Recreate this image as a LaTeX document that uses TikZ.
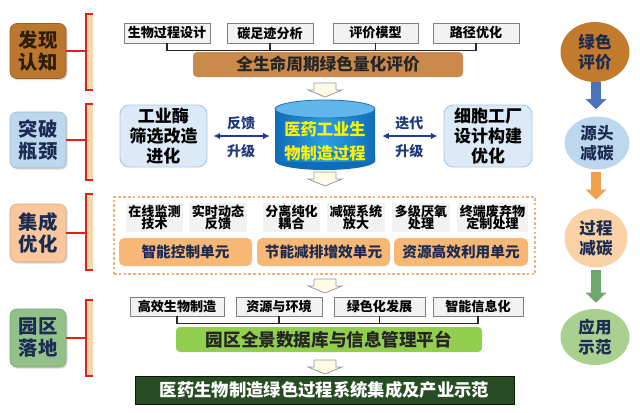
\documentclass[tikz,border=0pt]{standalone}
\usepackage{fontspec}
\setmainfont{Noto Sans CJK SC}
\usetikzlibrary{arrows.meta,shapes.geometric,shadows}
\definecolor{brownL}{HTML}{BC772F}
\definecolor{brownB}{HTML}{9A5E20}
\definecolor{brownT}{HTML}{2E1D0A}
\definecolor{blueL}{HTML}{BDD7EE}
\definecolor{navy}{HTML}{1B2B52}
\definecolor{peach}{HTML}{F8C79C}
\definecolor{greenL}{HTML}{92C28A}
\definecolor{brk}{HTML}{E0201B}
\definecolor{tanS}{HTML}{F2D9A8}
\definecolor{sgray}{HTML}{F2F2F2}
\definecolor{sborder}{HTML}{7F7F7F}
\definecolor{barbrown}{HTML}{C98A4B}
\definecolor{cylA}{HTML}{0F6DB8}
\definecolor{cylB}{HTML}{2A9DE2}
\definecolor{cyltop}{HTML}{62B6EC}
\definecolor{cylrim}{HTML}{1A6FB0}
\definecolor{ylw}{HTML}{FFF200}
\definecolor{lbfill}{HTML}{DCEAF7}
\definecolor{lbdraw}{HTML}{A9C8E8}
\definecolor{darkblue}{HTML}{1F3A9E}
\definecolor{arrtxt}{HTML}{1F3A7A}
\definecolor{dashc}{HTML}{F0B27A}
\definecolor{unitc}{HTML}{F6B874}
\definecolor{greenbar}{HTML}{93CF4E}
\definecolor{darkgreen}{HTML}{274B23}
\definecolor{e1c}{HTML}{C27A2C}
\definecolor{e3c}{HTML}{F9D2A6}
\definecolor{e4c}{HTML}{A9D08E}
\definecolor{fblue}{HTML}{4A74B8}
\definecolor{forange}{HTML}{EFA14E}
\definecolor{fgreen}{HTML}{6EA66B}
\definecolor{harrfill}{HTML}{FFFBE6}
\newcommand\harrow[2]{\draw[harr] (#1-11,#2) -- (#1+11,#2) -- (#1+11,#2+7) -- (#1+17,#2+7) -- (#1,#2+14) -- (#1-17,#2+7) -- (#1-11,#2+7) -- cycle;}
\begin{document}
\begin{tikzpicture}[x=0.75pt,y=-0.75pt,
  lab/.style={rounded corners=5pt, minimum width=42pt, align=center, inner sep=0pt,
    font=\fontsize{14.5}{16.5}\selectfont\bfseries,
    drop shadow={shadow xshift=1.2pt,shadow yshift=-1.2pt,opacity=0.3}},
  brkline/.style={draw=brk, line width=1.5pt},
  sbox/.style={draw=sborder, fill=sgray, line width=0.7pt, inner sep=0pt, minimum height=15pt,
    font=\fontsize{9.8}{10}\selectfont\bfseries},
  conn/.style={draw=black!85, line width=0.8pt},
  bar/.style={rounded corners=3pt, inner sep=0pt, font=\fontsize{12.5}{13}\selectfont\bfseries},
  harr/.style={fill=harrfill, draw=black!40, line width=0.6pt, line join=miter},
  sidebox/.style={rounded corners=7pt, fill=lbfill, draw=lbdraw, line width=0.7pt, align=center,
    inner sep=0pt, minimum height=46.5pt, font=\fontsize{12.75}{15}\selectfont\bfseries},
  darr/.style={draw=darkblue, line width=1.2pt, {Latex[length=5pt,width=5pt]}-{Latex[length=5pt,width=5pt]}},
  alab/.style={text=arrtxt, font=\fontsize{10.5}{11}\selectfont\bfseries, inner sep=0pt},
  tbox/.style={fill=sgray, inner sep=0pt, minimum height=21.75pt, align=center,
    font=\fontsize{9.8}{9.6}\selectfont\bfseries},
  unit/.style={rounded corners=4pt, fill=unitc, inner sep=0pt, minimum height=21pt, text=navy,
    font=\fontsize{11}{12}\selectfont\bfseries},
  ell/.style={ellipse, inner sep=0pt, align=center, text=navy, font=\fontsize{12.4}{15}\selectfont\bfseries},
  fat/.style={line width=8pt, -{Triangle[width=15pt,length=7.5pt]}}
]
\useasboundingbox (0,0) rectangle (640,412);
\fill[white] (0,0) rectangle (640,412);

% ---------- left labels ----------
\node[lab, fill=brownL, draw=brownB, text=brownT, minimum height=41.25pt] (L1) at (38,51) {发现\\认知};
\node[lab, fill=blueL, draw=blueL!85!black, text=navy, minimum height=42pt] (L2) at (38,140) {突破\\瓶颈};
\node[lab, fill=peach, draw=peach!85!black, text=navy, minimum height=43.5pt] (L3) at (38,233) {集成\\优化};
\node[lab, fill=greenL, draw=greenL!85!black, text=navy, minimum height=43.5pt] (L4) at (38,338) {园区\\落地};

% ---------- brackets ----------
\foreach \yt/\yb/\n in {14/90/1,104/180/2,194/270/3,300/376/4}{
  \fill[tanS] (86,\yt) rectangle (93,\yb);
  \draw[brkline] (93,\yt) -- (86,\yt) -- (86,\yb) -- (93,\yb);
  \coordinate (k\n) at (86,{(\yt+\yb)/2});
}
\draw[brkline] (L1.east) -- (L1.east -| k1);
\draw[brkline] (L2.east) -- (L2.east -| k2);
\draw[brkline] (L3.east) -- (L3.east -| k3);
\draw[brkline] (L4.east) -- (L4.east -| k4);

% ---------- row 1 ----------
\node[sbox, minimum width=64.5pt] (s1) at (167,33) {生物过程设计};
\node[sbox, minimum width=64.5pt] (s2) at (270,33) {碳足迹分析};
\node[sbox, minimum width=63.75pt] (s3) at (375.5,33) {评价模型};
\node[sbox, minimum width=64.5pt] (s4) at (476,33) {路径优化};
\draw[conn] (s1.south) -- ++(0,7) -| (s4.south);
\draw[conn] (s2.south) -- ++(0,7);
\draw[conn] (s3.south) -- ++(0,7);
\node[bar, fill=barbrown, text=black!85, minimum width=202.5pt, minimum height=18.75pt] (bar1) at (328,64.5) {全生命周期绿色量化评价};

\harrow{325}{83}

% ---------- row 2 ----------
\shade[left color=cylA, right color=cylA, middle color=cylB] (275,109) rectangle (375,161);
\fill[cylA] (325,161) ellipse [x radius=50, y radius=9];
\shade[left color=cylA, right color=cylA, middle color=cylB] (275,155) rectangle (375,161);
\filldraw[fill=cyltop, draw=cylrim, line width=0.6pt] (325,109) ellipse [x radius=50, y radius=9];
\node[inner sep=0pt, minimum width=75pt, minimum height=39pt, align=center, text=ylw,
  font=\fontsize{12.2}{18}\selectfont\bfseries] (cyl) at (325,141) {医药工业生\\物制造过程};

\node[sidebox, minimum width=65.25pt] (b1) at (163.5,136) {工业酶\\筛选改造\\进化};
\node[sidebox, minimum width=66pt] (b2) at (488,136) {细胞工厂\\设计构建\\优化};

\draw[darr, shorten <=4.5pt, shorten >=3.75pt] (b1.east) -- node[alab, midway, yshift=9.75pt] {反馈} node[alab, midway, yshift=-11.25pt] {升级} (b1.east -| cyl.west);
\draw[darr, shorten <=5.25pt, shorten >=4.5pt] (b2.west -| cyl.east) -- node[alab, midway, yshift=9.75pt] {迭代} node[alab, midway, yshift=-11.25pt] {升级} (b2.west);

\harrow{325}{172}

% ---------- row 3 ----------
\node[draw=dashc, line width=0.8pt, dash pattern=on 2pt off 1.6pt, fill=white, minimum width=315.75pt, minimum height=57.75pt, inner sep=0pt] (grp) at (324.5,235.5) {};
\node[tbox, minimum width=42.75pt] (t1) at (154.5,217.5) {在线监测\\技术};
\node[tbox, minimum width=43.5pt] (t2) at (218,217.5) {实时动态\\反馈};
\node[tbox, minimum width=42.75pt] (t3) at (291.5,217.5) {分离纯化\\耦合};
\node[tbox, minimum width=43.5pt] (t4) at (356,217.5) {减碳系统\\放大};
\node[tbox, minimum width=43.5pt] (t5) at (421,217.5) {多级厌氧\\处理};
\node[tbox, minimum width=53.25pt] (t6) at (492.5,217.5) {终端废弃物\\定制处理};
\node[unit, minimum width=99.75pt] (u1) at (185.5,252) {智能控制单元};
\node[unit, minimum width=99.75pt] (u2) at (323.5,252) {节能减排增效单元};
\node[unit, minimum width=100.5pt] (u3) at (461,252) {资源高效利用单元};

\harrow{325}{279}

% ---------- row 4 ----------
\node[sbox, minimum width=70.5pt, minimum height=14.25pt] (r1) at (177,306.5) {高效生物制造};
\node[sbox, minimum width=64.5pt, minimum height=14.25pt] (r2) at (279,306.5) {资源与环境};
\node[sbox, minimum width=68.25pt, minimum height=14.25pt] (r3) at (379.5,306.5) {绿色化发展};
\node[sbox, minimum width=67.5pt, minimum height=14.25pt] (r4) at (478,306.5) {智能信息化};
\draw[conn] (r1.south) -- ++(0,7) -| (r4.south);
\draw[conn] (r2.south) -- ++(0,7);
\draw[conn] (r3.south) -- ++(0,7);
\node[bar, fill=greenbar, text=black!85, minimum width=229.5pt, minimum height=18.75pt, font=\fontsize{13.2}{14}\selectfont\bfseries] (bar4) at (329,339.5) {园区全景数据库与信息管理平台};

\harrow{325}{360}

\node[fill=darkgreen, draw=black!70!darkgreen, line width=0.6pt, inner sep=0pt, minimum width=284.25pt, minimum height=21pt, text=white, font=\fontsize{13}{14}\selectfont\bfseries] (fin) at (324.5,390) {医药生物制造绿色过程系统集成及产业示范};

% ---------- right column ----------
\node[ell, fill=e1c, minimum width=51.75pt, minimum height=45pt] (e1) at (595,52) {绿色\\评价};
\node[ell, fill=blueL, minimum width=48.75pt, minimum height=39.75pt] (e2) at (597,143) {源头\\减碳};
\node[ell, fill=e3c, minimum width=47.25pt, minimum height=44.25pt] (e3) at (596,238) {过程\\减碳};
\node[ell, fill=e4c, minimum width=51.75pt, minimum height=42pt] (e4) at (595,337) {应用\\示范};
\draw[fat, draw=fblue, shorten >=5.25pt] (e1.south -| 596,0) -- (e2.north -| 596,0);
\draw[fat, draw=forange, shorten <=1.8pt, shorten >=6.4pt] (e2.south -| 596,0) -- (e3.north -| 596,0);
\draw[fat, draw=fgreen, shorten <=1.8pt, shorten >=4.5pt] (e3.south -| 596,0) -- (e4.north -| 596,0);
\end{tikzpicture}
\end{document}
